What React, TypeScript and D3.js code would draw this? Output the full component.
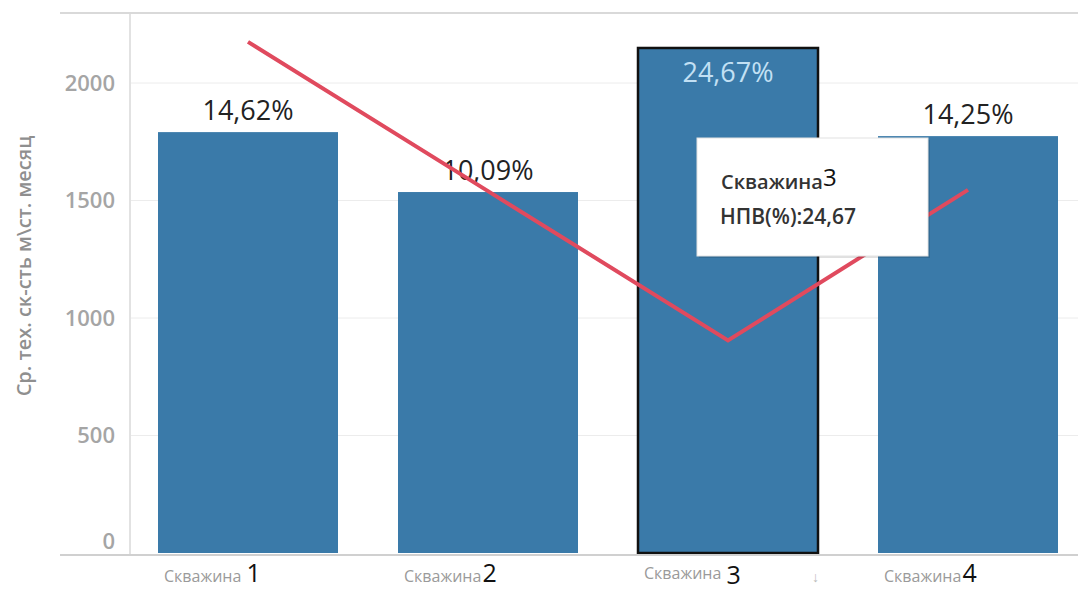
import React from "react";
import * as d3 from "d3";

const wells = ["1", "2", "3", "4"];
const speedValues = [1791, 1536, 2149, 1774];
const npvLabels = ["14,62%", "10,09%", "24,67%", "14,25%"];
const lineValues = [2175, 1540, 905, 1545];
const yTicks = [0, 500, 1000, 1500, 2000];

const W = 1078;
const H = 591;

export default function App() {
  const x = d3.scaleBand<string>().domain(wells).range([128, 1088]).paddingInner(0.25).paddingOuter(0.125);
  const y = d3.scaleLinear().domain([0, 2000]).range([553, 83]);
  const line = d3
    .line<number>()
    .x((_, i) => (x(wells[i]) as number) + x.bandwidth() / 2)
    .y((d) => y(d));
  const barColor = "#3a7aa9";
  const selected = 2;
  const tipX = 697, tipY = 138, tipW = 231, tipH = 118;

  return (
    <svg width={W} height={H} style={{ position: "absolute", left: 0, top: 0, background: "#fff" }} fontFamily="'Open Sans', 'Noto Sans', sans-serif">
      <rect x={0} y={0} width={W} height={H} fill="#fff" />
      {/* frame lines */}
      <line x1={60} x2={W} y1={13} y2={13} stroke="#d9d9d9" strokeWidth={2} />
      <line x1={130} x2={130} y1={13} y2={555} stroke="#d9d9d9" strokeWidth={1.5} />
      {/* gridlines */}
      {yTicks.filter((t) => t > 0).map((t) => (
        <line key={t} x1={131} x2={W} y1={y(t)} y2={y(t)} stroke="#ececec" strokeWidth={1} />
      ))}
      {/* tick labels */}
      {yTicks.map((t) => (
        <text key={t} x={115} y={t === 0 ? y(t) - 12 : y(t)} dy="0.35em" textAnchor="end" fontSize={22} fontWeight={600} fill="#a5a5a5">
          {t}
        </text>
      ))}
      <text transform="translate(24,266) rotate(-90)" textAnchor="middle" fontSize={20} fontWeight={600} fill="#8f8f8f" dy="0.35em">
        Ср. тех. ск-сть м\ст. месяц
      </text>
      {/* bars */}
      {speedValues.map((v, i) => (
        <rect
          key={i}
          x={x(wells[i]) as number}
          y={y(v)}
          width={x.bandwidth()}
          height={y(0) - y(v)}
          fill={barColor}
          stroke={i === selected ? "#111" : "none"}
          strokeWidth={i === selected ? 2.5 : 0}
        />
      ))}
      {/* baseline */}
      <line x1={60} x2={W} y1={555} y2={555} stroke="#d0d0d0" strokeWidth={2} />
      {/* bar labels */}
      {speedValues.map((v, i) => {
        const cx = (x(wells[i]) as number) + x.bandwidth() / 2;
        const inside = i === selected;
        return (
          <text
            key={i}
            x={cx}
            y={inside ? y(v) + 34 : y(v) - 12}
            textAnchor="middle"
            fontSize={27}
            fill={inside ? "#c2e0f4" : "#222"}
          >
            {npvLabels[i]}
          </text>
        );
      })}
      {/* line */}
      <path d={line(lineValues) as string} fill="none" stroke="#e04a5e" strokeWidth={4} strokeLinejoin="miter" />
      {/* x labels */}
      {wells.map((w, i) => (
        <text key={w} x={(x(w) as number) + 6} y={i === 2 ? 580 : 582} fontSize={0}>
          <tspan fontSize={16} fill="#9a9a9a" dy={i === 2 ? -1 : 0}>Скважина</tspan>
          <tspan fontSize={25} fill="#111" dx={i === 1 || i === 3 ? 1 : 5} dy={i === 2 ? 5 : 0}>{w}</tspan>
        </text>
      ))}
      <text x={812} y={582} fontSize={14} fill="#bbb">↓</text>
      {/* tooltip */}
      <rect x={tipX + 2} y={tipY + 2} width={tipW} height={tipH} fill="#000" opacity={0.12} />
      <rect x={tipX} y={tipY} width={tipW} height={tipH} fill="#fff" stroke="#e2e2e2" strokeWidth={1} />
      <text x={tipX + 24} y={tipY + 51} fontSize={0}>
        <tspan fontSize={20} fill="#333" fontWeight={600}>Скважина</tspan>
        <tspan fontSize={24} fill="#111" dy={-3}>3</tspan>
      </text>
      <text x={tipX + 23} y={tipY + 86} fontSize={21} fill="#333" fontWeight={600}>
        НПВ(%):24,67
      </text>
    </svg>
  );
}
